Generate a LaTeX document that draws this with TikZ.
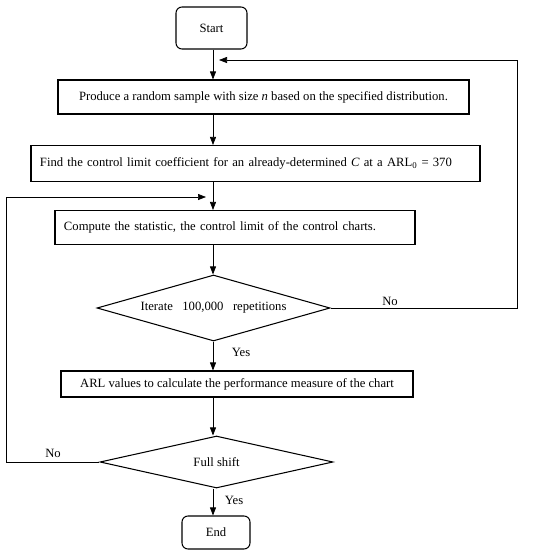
\documentclass[tikz,border=0pt]{standalone}
\usepackage{fontspec}
\setmainfont{Liberation Serif}
\usetikzlibrary{shapes.geometric}
\usetikzlibrary{arrows,arrows.meta}
\usetikzlibrary{calc}

\begin{document}
\begin{tikzpicture}[x=0.03cm, y=-0.03cm, font=\fontsize{10.8}{13}\selectfont,
    box/.style={draw, line width=0.9pt, inner sep=0pt},
    term/.style={box, rounded corners=1.8mm},
    dia/.style={draw, line width=0.9pt, diamond, inner sep=0pt, aspect=3.5},
    pfeil/.style={line width=0.6pt, -{Triangle[length=2.4mm,width=1.8mm]}}]

    \useasboundingbox (0,0) rectangle (550,553);

    \node[term, minimum width=2.13cm, minimum height=1.26cm] (S) at (211.5,28) {Start};
    \node[box, minimum width=12.33cm, minimum height=1.02cm] (P) at (263.5,97) {Produce a random sample with size \textit{n} based on the specified distribution.};
    \node[box, minimum width=13.47cm, minimum height=1.08cm, text width=12.93cm, align=left] (F) at (255.5,163.5) {Find the control limit coefficient for an already-determined \textit{C} at a ARL\textsubscript{0} = 370};
    \node[box, minimum width=10.8cm, minimum height=1.02cm, text width=10.26cm, align=left] (C) at (235,227.5) {Compute the statistic, the control limit of the control charts.};
    \node[dia, minimum width=6.99cm, minimum height=1.98cm] (I) at (213.5,308) {Iterate~~~100,000~~~repetitions};
    \node[box, minimum width=10.56cm, minimum height=0.78cm] (A) at (237,384) {ARL values to calculate the performance measure of the chart};
    \node[dia, minimum width=6.99cm, minimum height=1.56cm] (Fs) at (216.5,462) {Full shift};
    \node[term, minimum width=2.04cm, minimum height=0.99cm] (E) at (216,532.5) {End};

    \node (N1) at (390,301) {No};
    \node (Y1) at (241,352) {Yes};
    \node (N2) at (53,453) {No};
    \node (Y2) at (234,500) {Yes};

    \coordinate (X) at (213,0);
    \coordinate (R) at (219,60);
    \coordinate (L) at (206,197);

				\foreach \a/\b in {S/P, P/F, F/C, C/I, I/A, A/Fs, Fs/E}
				\draw[pfeil] (X |- \a.south) -- (X |- \b.north);

				\draw[pfeil] (I.east) -- ++(187,0) |- (R);
				\draw[pfeil] (Fs.west) -- ++(-93,0) |- (L);

\end{tikzpicture}
\end{document}
